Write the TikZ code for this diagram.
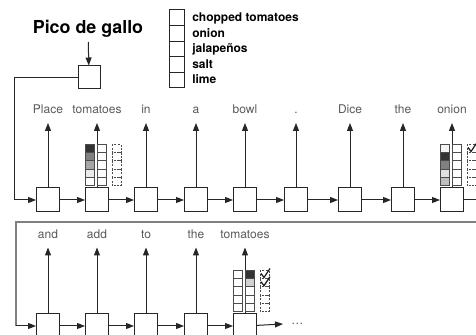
\documentclass[tikz,border=0pt]{standalone}
\usepackage{fontspec}
\setmainfont{TeX Gyre Heros}
\usetikzlibrary{arrows.meta}

\tikzset{
  unit/.style={draw=black!85, fill=white, line width=0.75pt, minimum width=17.25pt, minimum height=18pt, inner sep=0pt},
  word/.style={anchor=south, text=black!65, font=\fontsize{9}{10}\selectfont, inner xsep=0pt, inner ysep=6.75pt, text depth=0pt},
  flow/.style={draw=black!85, line width=0.75pt, -{Triangle[length=6pt,width=4.5pt]}},
  cell/.style={draw=black!70, line width=0.6pt},
  tick/.style={draw=black!90, line width=0.9pt, line join=round},
  wrap/.style={draw=black!50, line width=1.6pt},
}

% column of attention cells sitting on top of a box
\newcommand{\cellstack}[3]{%
  \begin{scope}[shift={(#1.north west)}]
    \foreach \s [count=\k] in {#2}
      \filldraw[cell, fill=\s] (0,{-51.2+8.2*\k}) rectangle ++(9.5,8.2);
    \foreach \s [count=\k] in {#3}
      \filldraw[cell, fill=\s] (12.5,{-51.2+8.2*\k}) rectangle ++(8.5,8.2);
    \foreach \k in {1,...,5}
      \draw[cell, dashed, dash pattern=on 1.5pt off 1pt] (27,{-51.2+8.2*\k}) rectangle ++(9,8.2);
  \end{scope}}

\begin{document}
\begin{tikzpicture}[x=0.75pt, y=-0.75pt]
  \useasboundingbox (0,0) rectangle (476,335);

  % Title and the dish encoding
  \node[anchor=base, font=\bfseries\fontsize{13.4}{15}\selectfont] (title) at (88,33.3) {Pico de gallo};
  \node[unit, minimum width=16.5pt, minimum height=17.25pt] (dish) at (89,77.5) {};
  \draw[flow] (title) -- (dish);

  % Ingredient list
  \foreach \ing [count=\i] in {chopped tomatoes, onion, jalape\~nos, salt, lime} {
    \draw[line width=0.75pt, draw=black!85] (169,{10+15.6*(\i-1)}) rectangle ++(15,15.6);
    \node[anchor=base west, inner sep=0pt, font=\bfseries\fontsize{9}{10}\selectfont] (ing\i) at (192,{21.5+15.6*(\i-1)}) {\ing};
  }

  % First row of the decoder
  \foreach \x/\w [count=\i] in {48/Place, 97/tomatoes, 146/in, 196/a, 245/bowl, 296/., 350/Dice, 403/the, 452/onion} {
    \node[unit] (a\i) at (\x,200) {};
    \node[word] (w\i) at (\x,123) {\w};
    \draw[flow] (a\i) -- (w\i);
  }
  \foreach \i [evaluate=\i as \j using int(\i+1)] in {1,...,8}
    \draw[flow] (a\i) -- (a\j);

  \coordinate (in1) at (14,200);
  \coordinate (out1) at (476,200);
  \draw[flow] (dish.west) -| (in1) -- (a1);
  \draw[line width=0.75pt, draw=black!85] (a9) -- (out1);

  % Second row of the decoder
  \foreach \x/\w [count=\i] in {48/and, 97/add, 146/to, 196/the, 245/tomatoes} {
    \node[unit] (b\i) at (\x,326) {};
    \node[word] (v\i) at (\x,247.5) {\w};
    \draw[flow] (b\i) -- (v\i);
  }
  \foreach \i [evaluate=\i as \j using int(\i+1)] in {1,...,4}
    \draw[flow] (b\i) -- (b\j);

  \coordinate (wrapR) at (476,222);
  \coordinate (wrapL) at (16,326);
  \draw[wrap] (wrapR) -| (wrapL);
  \draw[flow] (wrapL) -- (b1);
  \node[text=black!65, font=\fontsize{9}{10}\selectfont, anchor=west, inner sep=0pt] (more) at (291,324) {\dots};
  \draw[flow] (b5) -- ([xshift=-6pt]more.west);

  % Attention over the ingredients
  \cellstack{a2}{black!80, black!50, black!35, black!8, white}{white, white, white, white, white}
  \cellstack{a9}{black!4, black!80, black!50, black!12, black!25}{white, white, white, white, white}
  \cellstack{b5}{white, white, white, white, white}{black!80, black!18, white, white, white}

  % Used ingredients
  \draw[tick] ([shift={(28,-40)}]a9.north west) -- ++(3,4) -- ++(6,-9);
  \draw[tick] ([shift={(28,-40)}]b5.north west) -- ++(3,4) -- ++(6,-9);
  \draw[tick] ([shift={(28,-31.8)}]b5.north west) -- ++(3,4) -- ++(6,-9);
\end{tikzpicture}
\end{document}
